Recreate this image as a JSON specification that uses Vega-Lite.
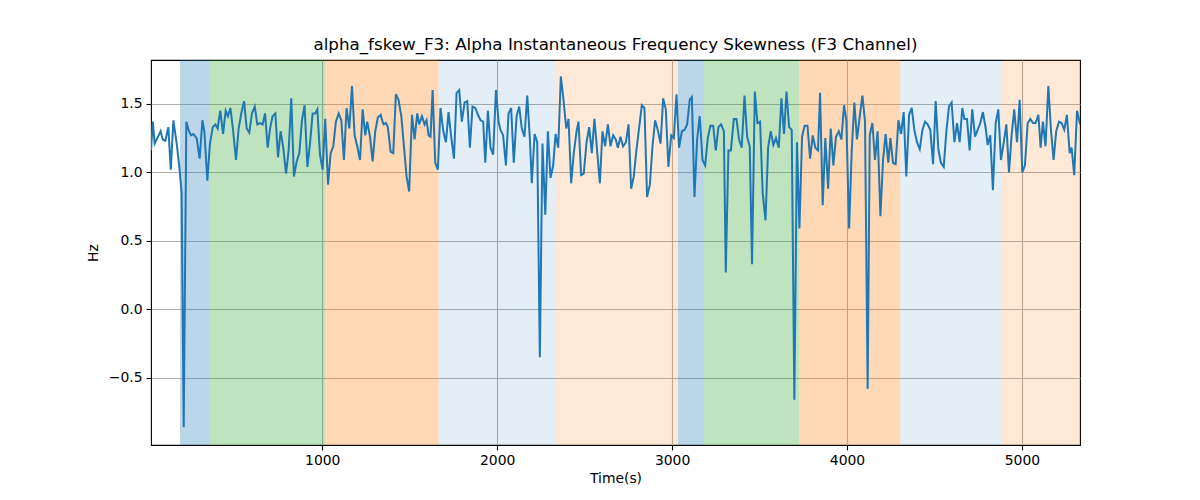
{
  "$schema": "https://vega.github.io/schema/vega-lite/v6.json",
  "width": 929,
  "height": 385,
  "autosize": {"type": "none"},
  "padding": {"left": 151, "top": 60, "right": 120, "bottom": 55},
  "background": "white",
  "title": {
    "text": "alpha_fskew_F3: Alpha Instantaneous Frequency Skewness (F3 Channel)",
    "font": "DejaVu Sans",
    "fontSize": 16.7,
    "fontWeight": "normal",
    "color": "black",
    "offset": 6
  },
  "config": {
    "view": {"stroke": "black", "strokeWidth": 1.1},
    "axis": {
      "labelFont": "DejaVu Sans",
      "titleFont": "DejaVu Sans",
      "labelFontSize": 13.9,
      "titleFontSize": 13.9,
      "titleFontWeight": "normal",
      "labelColor": "black",
      "titleColor": "black",
      "tickColor": "black",
      "tickSize": 4.9,
      "tickWidth": 1.1,
      "labelPadding": 4,
      "domain": false,
      "gridColor": "#b0b0b0",
      "gridWidth": 1.1
    }
  },
  "datasets": {
    "bands": [
      {"start": 187, "end": 358, "phase": "p1"},
      {"start": 358, "end": 1019, "phase": "p2"},
      {"start": 1019, "end": 1665, "phase": "p3"},
      {"start": 1665, "end": 2337, "phase": "p4"},
      {"start": 2337, "end": 3033, "phase": "p5"},
      {"start": 3033, "end": 3183, "phase": "p1"},
      {"start": 3183, "end": 3726, "phase": "p2"},
      {"start": 3726, "end": 4305, "phase": "p3"},
      {"start": 4305, "end": 4886, "phase": "p4"},
      {"start": 4886, "end": 5332, "phase": "p5"}
    ],
    "series": [
      {"t": 21, "v": 1.16}, {"t": 31, "v": 1.37}, {"t": 42, "v": 1.21}, {"t": 57, "v": 1.25},
      {"t": 76, "v": 1.30}, {"t": 88, "v": 1.24}, {"t": 103, "v": 1.23}, {"t": 120, "v": 1.33},
      {"t": 134, "v": 1.02}, {"t": 149, "v": 1.38}, {"t": 168, "v": 1.21}, {"t": 183, "v": 1.04},
      {"t": 196, "v": 0.85}, {"t": 208, "v": -0.86}, {"t": 223, "v": 1.37}, {"t": 238, "v": 1.30},
      {"t": 250, "v": 1.27}, {"t": 263, "v": 1.28}, {"t": 282, "v": 1.25}, {"t": 299, "v": 1.10},
      {"t": 315, "v": 1.38}, {"t": 326, "v": 1.30}, {"t": 343, "v": 0.94}, {"t": 358, "v": 1.21},
      {"t": 374, "v": 1.33}, {"t": 389, "v": 1.35}, {"t": 402, "v": 1.32}, {"t": 417, "v": 1.45},
      {"t": 433, "v": 1.28}, {"t": 448, "v": 1.45}, {"t": 461, "v": 1.41}, {"t": 475, "v": 1.47},
      {"t": 490, "v": 1.31}, {"t": 507, "v": 1.09}, {"t": 522, "v": 1.32}, {"t": 537, "v": 1.43},
      {"t": 553, "v": 1.52}, {"t": 568, "v": 1.32}, {"t": 583, "v": 1.29}, {"t": 598, "v": 1.43},
      {"t": 614, "v": 1.48}, {"t": 629, "v": 1.35}, {"t": 644, "v": 1.36}, {"t": 659, "v": 1.35},
      {"t": 673, "v": 1.43}, {"t": 688, "v": 1.18}, {"t": 703, "v": 1.33}, {"t": 716, "v": 1.41},
      {"t": 732, "v": 1.43}, {"t": 747, "v": 1.11}, {"t": 762, "v": 1.30}, {"t": 777, "v": 1.18},
      {"t": 793, "v": 0.99}, {"t": 808, "v": 1.16}, {"t": 823, "v": 1.54}, {"t": 838, "v": 0.97},
      {"t": 854, "v": 1.08}, {"t": 869, "v": 1.14}, {"t": 884, "v": 1.38}, {"t": 899, "v": 1.49},
      {"t": 915, "v": 1.04}, {"t": 930, "v": 1.21}, {"t": 945, "v": 1.43}, {"t": 960, "v": 1.43},
      {"t": 972, "v": 1.46}, {"t": 987, "v": 1.13}, {"t": 1002, "v": 1.02}, {"t": 1017, "v": 1.39},
      {"t": 1033, "v": 0.91}, {"t": 1048, "v": 1.14}, {"t": 1063, "v": 1.19}, {"t": 1078, "v": 1.37},
      {"t": 1094, "v": 1.43}, {"t": 1109, "v": 1.38}, {"t": 1124, "v": 1.09}, {"t": 1139, "v": 1.47},
      {"t": 1155, "v": 1.32}, {"t": 1170, "v": 1.63}, {"t": 1185, "v": 1.27}, {"t": 1200, "v": 1.19},
      {"t": 1216, "v": 1.09}, {"t": 1231, "v": 1.46}, {"t": 1246, "v": 1.27}, {"t": 1257, "v": 1.37},
      {"t": 1273, "v": 1.26}, {"t": 1288, "v": 1.08}, {"t": 1303, "v": 1.30}, {"t": 1318, "v": 1.40},
      {"t": 1334, "v": 1.42}, {"t": 1345, "v": 1.37}, {"t": 1351, "v": 1.35}, {"t": 1364, "v": 1.36},
      {"t": 1375, "v": 1.33}, {"t": 1391, "v": 1.15}, {"t": 1406, "v": 1.14}, {"t": 1421, "v": 1.57},
      {"t": 1436, "v": 1.53}, {"t": 1452, "v": 1.41}, {"t": 1467, "v": 1.19}, {"t": 1482, "v": 0.97},
      {"t": 1497, "v": 0.86}, {"t": 1513, "v": 1.42}, {"t": 1528, "v": 1.24}, {"t": 1543, "v": 1.43},
      {"t": 1554, "v": 1.35}, {"t": 1570, "v": 1.41}, {"t": 1585, "v": 1.35}, {"t": 1596, "v": 1.38},
      {"t": 1608, "v": 1.27}, {"t": 1619, "v": 1.26}, {"t": 1631, "v": 1.60}, {"t": 1646, "v": 1.07},
      {"t": 1661, "v": 1.02}, {"t": 1676, "v": 1.47}, {"t": 1692, "v": 1.30}, {"t": 1707, "v": 1.22},
      {"t": 1722, "v": 1.44}, {"t": 1737, "v": 1.26}, {"t": 1753, "v": 1.10}, {"t": 1768, "v": 1.58},
      {"t": 1783, "v": 1.60}, {"t": 1798, "v": 1.37}, {"t": 1814, "v": 1.51}, {"t": 1829, "v": 1.52},
      {"t": 1844, "v": 1.18}, {"t": 1859, "v": 1.48}, {"t": 1875, "v": 1.47}, {"t": 1890, "v": 1.42},
      {"t": 1905, "v": 1.38}, {"t": 1920, "v": 1.37}, {"t": 1932, "v": 1.07}, {"t": 1947, "v": 1.45},
      {"t": 1962, "v": 1.18}, {"t": 1977, "v": 1.13}, {"t": 1993, "v": 1.60}, {"t": 2008, "v": 1.37},
      {"t": 2019, "v": 1.31}, {"t": 2034, "v": 1.27}, {"t": 2050, "v": 1.05}, {"t": 2065, "v": 1.43},
      {"t": 2080, "v": 1.47}, {"t": 2095, "v": 1.07}, {"t": 2111, "v": 1.41}, {"t": 2126, "v": 1.48},
      {"t": 2141, "v": 1.32}, {"t": 2156, "v": 1.26}, {"t": 2172, "v": 1.56}, {"t": 2187, "v": 1.24},
      {"t": 2198, "v": 0.92}, {"t": 2214, "v": 1.28}, {"t": 2229, "v": 1.22}, {"t": 2244, "v": -0.35},
      {"t": 2259, "v": 1.21}, {"t": 2275, "v": 0.69}, {"t": 2290, "v": 1.30}, {"t": 2305, "v": 0.96},
      {"t": 2320, "v": 1.05}, {"t": 2334, "v": 1.28}, {"t": 2349, "v": 1.18}, {"t": 2364, "v": 1.70},
      {"t": 2379, "v": 1.53}, {"t": 2395, "v": 1.32}, {"t": 2408, "v": 1.39}, {"t": 2423, "v": 0.92},
      {"t": 2438, "v": 1.14}, {"t": 2454, "v": 1.30}, {"t": 2465, "v": 1.37}, {"t": 2480, "v": 0.98},
      {"t": 2495, "v": 0.99}, {"t": 2511, "v": 1.22}, {"t": 2526, "v": 1.33}, {"t": 2541, "v": 1.14},
      {"t": 2556, "v": 1.39}, {"t": 2572, "v": 1.15}, {"t": 2587, "v": 0.92}, {"t": 2602, "v": 1.30},
      {"t": 2617, "v": 1.19}, {"t": 2633, "v": 1.35}, {"t": 2648, "v": 1.19}, {"t": 2663, "v": 1.27},
      {"t": 2678, "v": 1.24}, {"t": 2690, "v": 1.18}, {"t": 2705, "v": 1.26}, {"t": 2720, "v": 1.19},
      {"t": 2736, "v": 1.22}, {"t": 2751, "v": 1.35}, {"t": 2766, "v": 0.88}, {"t": 2781, "v": 0.97},
      {"t": 2796, "v": 1.16}, {"t": 2812, "v": 1.33}, {"t": 2827, "v": 1.49}, {"t": 2842, "v": 1.47},
      {"t": 2857, "v": 0.82}, {"t": 2873, "v": 0.91}, {"t": 2888, "v": 1.19}, {"t": 2903, "v": 1.38},
      {"t": 2918, "v": 1.31}, {"t": 2934, "v": 1.21}, {"t": 2949, "v": 1.54}, {"t": 2964, "v": 1.46},
      {"t": 2979, "v": 1.04}, {"t": 2995, "v": 1.27}, {"t": 3010, "v": 1.25}, {"t": 3025, "v": 1.57},
      {"t": 3040, "v": 1.18}, {"t": 3056, "v": 1.30}, {"t": 3071, "v": 1.31}, {"t": 3086, "v": 1.35},
      {"t": 3101, "v": 1.53}, {"t": 3113, "v": 1.55}, {"t": 3128, "v": 0.82}, {"t": 3143, "v": 1.24},
      {"t": 3158, "v": 1.41}, {"t": 3174, "v": 1.09}, {"t": 3189, "v": 1.05}, {"t": 3204, "v": 1.25},
      {"t": 3219, "v": 1.34}, {"t": 3235, "v": 1.34}, {"t": 3250, "v": 1.16}, {"t": 3265, "v": 1.33},
      {"t": 3280, "v": 1.35}, {"t": 3296, "v": 1.30}, {"t": 3307, "v": 0.27}, {"t": 3322, "v": 1.16},
      {"t": 3336, "v": 1.16}, {"t": 3353, "v": 1.39}, {"t": 3368, "v": 1.39}, {"t": 3383, "v": 1.24},
      {"t": 3398, "v": 1.18}, {"t": 3414, "v": 1.56}, {"t": 3429, "v": 1.26}, {"t": 3444, "v": 1.19},
      {"t": 3457, "v": 0.33}, {"t": 3473, "v": 1.59}, {"t": 3488, "v": 1.36}, {"t": 3503, "v": 1.37},
      {"t": 3518, "v": 0.85}, {"t": 3534, "v": 0.65}, {"t": 3549, "v": 1.18}, {"t": 3564, "v": 1.30},
      {"t": 3579, "v": 1.20}, {"t": 3594, "v": 1.25}, {"t": 3610, "v": 1.18}, {"t": 3625, "v": 1.54},
      {"t": 3640, "v": 1.28}, {"t": 3654, "v": 1.59}, {"t": 3669, "v": 1.33}, {"t": 3684, "v": 1.31},
      {"t": 3699, "v": -0.66}, {"t": 3714, "v": 1.22}, {"t": 3728, "v": 0.59}, {"t": 3743, "v": 1.26},
      {"t": 3758, "v": 1.34}, {"t": 3774, "v": 1.34}, {"t": 3789, "v": 1.10}, {"t": 3804, "v": 1.27},
      {"t": 3819, "v": 1.18}, {"t": 3834, "v": 1.16}, {"t": 3846, "v": 1.58}, {"t": 3861, "v": 0.76},
      {"t": 3876, "v": 1.25}, {"t": 3892, "v": 0.88}, {"t": 3907, "v": 1.32}, {"t": 3922, "v": 1.05},
      {"t": 3937, "v": 1.26}, {"t": 3953, "v": 1.30}, {"t": 3968, "v": 1.24}, {"t": 3983, "v": 1.49},
      {"t": 3996, "v": 1.38}, {"t": 4012, "v": 0.59}, {"t": 4027, "v": 1.16}, {"t": 4042, "v": 1.51},
      {"t": 4057, "v": 1.24}, {"t": 4073, "v": 1.41}, {"t": 4088, "v": 1.56}, {"t": 4103, "v": 1.37},
      {"t": 4118, "v": -0.58}, {"t": 4130, "v": 1.27}, {"t": 4145, "v": 1.36}, {"t": 4160, "v": 1.09},
      {"t": 4175, "v": 1.30}, {"t": 4191, "v": 0.68}, {"t": 4206, "v": 1.09}, {"t": 4221, "v": 1.28},
      {"t": 4236, "v": 1.07}, {"t": 4248, "v": 1.25}, {"t": 4263, "v": 1.07}, {"t": 4278, "v": 1.06},
      {"t": 4294, "v": 1.38}, {"t": 4309, "v": 1.28}, {"t": 4324, "v": 1.44}, {"t": 4339, "v": 0.97},
      {"t": 4355, "v": 1.42}, {"t": 4370, "v": 1.47}, {"t": 4385, "v": 1.31}, {"t": 4400, "v": 1.22},
      {"t": 4416, "v": 1.17}, {"t": 4431, "v": 1.31}, {"t": 4446, "v": 1.37}, {"t": 4461, "v": 1.35},
      {"t": 4476, "v": 1.31}, {"t": 4492, "v": 1.06}, {"t": 4507, "v": 1.52}, {"t": 4522, "v": 1.17},
      {"t": 4537, "v": 1.07}, {"t": 4553, "v": 1.04}, {"t": 4568, "v": 1.30}, {"t": 4583, "v": 1.48},
      {"t": 4598, "v": 1.51}, {"t": 4614, "v": 1.22}, {"t": 4629, "v": 1.36}, {"t": 4644, "v": 1.22},
      {"t": 4659, "v": 1.47}, {"t": 4671, "v": 1.39}, {"t": 4686, "v": 1.39}, {"t": 4701, "v": 1.16},
      {"t": 4716, "v": 1.46}, {"t": 4732, "v": 1.26}, {"t": 4747, "v": 1.31}, {"t": 4762, "v": 1.36},
      {"t": 4777, "v": 1.44}, {"t": 4793, "v": 1.32}, {"t": 4804, "v": 1.20}, {"t": 4819, "v": 1.27},
      {"t": 4834, "v": 0.87}, {"t": 4850, "v": 1.36}, {"t": 4865, "v": 1.46}, {"t": 4880, "v": 1.09},
      {"t": 4895, "v": 1.21}, {"t": 4911, "v": 1.35}, {"t": 4926, "v": 1.00}, {"t": 4941, "v": 1.27},
      {"t": 4956, "v": 1.46}, {"t": 4972, "v": 1.22}, {"t": 4987, "v": 1.53}, {"t": 5002, "v": 1.00},
      {"t": 5017, "v": 1.05}, {"t": 5033, "v": 1.36}, {"t": 5048, "v": 1.39}, {"t": 5063, "v": 1.36},
      {"t": 5078, "v": 1.36}, {"t": 5094, "v": 1.42}, {"t": 5107, "v": 1.18}, {"t": 5120, "v": 1.37},
      {"t": 5135, "v": 1.19}, {"t": 5151, "v": 1.63}, {"t": 5166, "v": 1.31}, {"t": 5181, "v": 1.09},
      {"t": 5196, "v": 1.30}, {"t": 5212, "v": 1.37}, {"t": 5227, "v": 1.36}, {"t": 5242, "v": 1.31},
      {"t": 5257, "v": 1.42}, {"t": 5273, "v": 1.14}, {"t": 5284, "v": 1.18}, {"t": 5299, "v": 0.98},
      {"t": 5315, "v": 1.45}, {"t": 5332, "v": 1.35}
    ]
  },
  "layer": [
    {
      "data": {"name": "bands"},
      "mark": {"type": "rect", "clip": true},
      "encoding": {
        "x": {
          "field": "start",
          "type": "quantitative",
          "scale": {"domain": [21, 5332], "nice": false, "zero": false},
          "axis": {"title": "Time(s)", "values": [1000, 2000, 3000, 4000, 5000], "format": "d", "grid": true, "titlePadding": 4}
        },
        "x2": {"field": "end"},
        "color": {
          "field": "phase",
          "type": "nominal",
          "legend": null,
          "scale": {
            "domain": ["p1", "p2", "p3", "p4", "p5"],
            "range": ["rgba(31,119,180,0.3)", "rgba(44,160,44,0.3)", "rgba(255,127,14,0.3)", "rgba(31,119,180,0.12)", "rgba(255,127,14,0.17)"]
          }
        }
      }
    },
    {
      "data": {"name": "series"},
      "mark": {"type": "line", "color": "#1f77b4", "strokeWidth": 2, "clip": true},
      "encoding": {
        "x": {"field": "t", "type": "quantitative"},
        "y": {
          "field": "v",
          "type": "quantitative",
          "scale": {"domain": [-0.99, 1.82], "nice": false, "zero": false},
          "axis": {"title": "Hz", "values": [-0.5, 0, 0.5, 1, 1.5], "format": ".1f", "grid": true, "titlePadding": 8}
        }
      }
    }
  ]
}
